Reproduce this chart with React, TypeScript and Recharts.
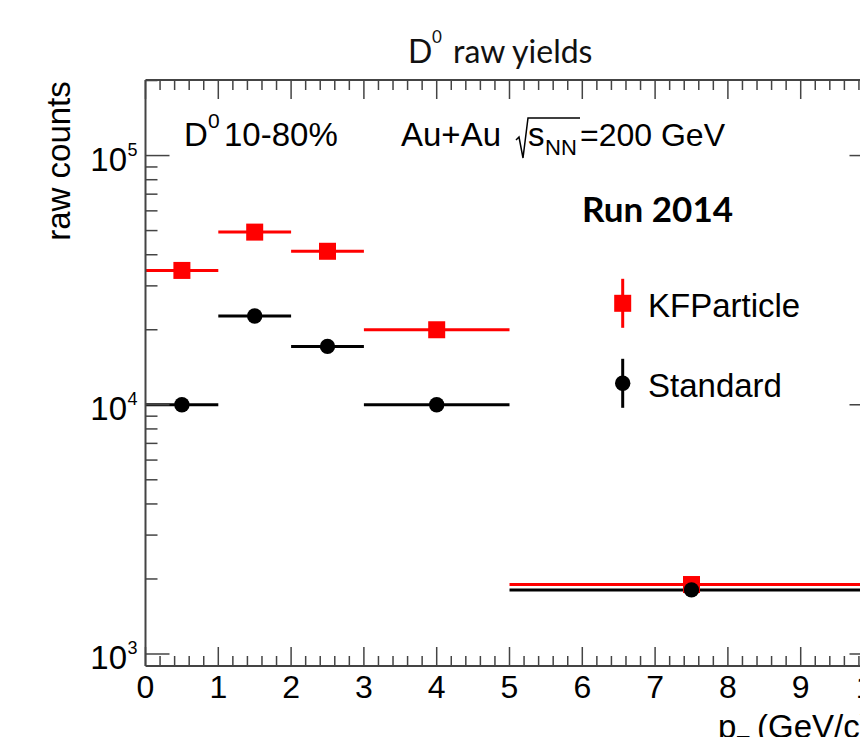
import { ComposedChart, Scatter, ErrorBar, XAxis, YAxis, Legend } from 'recharts';

// pT bins (GeV/c): centres and half widths
const binCenters = [0.5, 1.5, 2.5, 4, 7.5];
const binHalfWidths = [0.5, 0.5, 0.5, 1, 2.5];

// raw D0 counts per bin
const kfParticleYields = [34600, 49300, 41300, 20000, 1900];
const standardYields = [10000, 22700, 17150, 10000, 1808];

const xMajorTicks = [0, 1, 2, 3, 4, 5, 6, 7, 8, 9, 10];
const yDecades = [1000, 10000, 100000];
const yDecadeExponents = ['3', '4', '5'];

const X_DOMAIN: [number, number] = [0, 10];
const Y_DOMAIN: [number, number] = [895, 201000];

// minor ticks every 0.2 on x, 2..9 x 10^n on y (only inside the frame)
const xTicks = Array.from({ length: 51 }, (_, i) => i / 5);
const yTicks = yDecades
  .flatMap((d) => [1, 2, 3, 4, 5, 6, 7, 8, 9].map((m) => m * d))
  .filter((v) => v >= Y_DOMAIN[0] && v < Y_DOMAIN[1]);

const FRAME = '#444';
const ROOT_FONT = '"Liberation Sans", Arial, Helvetica, sans-serif';
const PPT_FONT = 'Lato, "Open Sans", sans-serif';

const kfData = binCenters.map((x, i) => ({ x, y: kfParticleYields[i], xErr: binHalfWidths[i] }));
const stdData = binCenters.map((x, i) => ({ x, y: standardYields[i], xErr: binHalfWidths[i] }));

const series = [
  { name: 'KFParticle', color: '#ff0000', marker: 'square' },
  { name: 'Standard', color: '#000000', marker: 'circle' },
];

const isMajorX = (v: number) => xMajorTicks.some((t) => Math.abs(v - t) < 1e-6);
const decadeIndex = (v: number) => yDecades.findIndex((d) => Math.abs(v - d) < 1e-6);

function BottomTick(props: any) {
  const { x, y, payload } = props;
  const major = isMajorX(payload.value);
  return (
    <g>
      <line x1={x} x2={x} y1={y} y2={y - (major ? 19 : 10)} stroke={FRAME} strokeWidth={1.5} />
      {major && (
        <text x={x} y={y + 32} textAnchor="middle" fontSize={32} fontFamily={ROOT_FONT} fill="#000">
          {Math.round(payload.value)}
        </text>
      )}
    </g>
  );
}

function TopTick(props: any) {
  const { x, y, payload } = props;
  const major = isMajorX(payload.value);
  return <line x1={x} x2={x} y1={y} y2={y + (major ? 19 : 10)} stroke={FRAME} strokeWidth={1.5} />;
}

function LeftTick(props: any) {
  const { x, y, payload } = props;
  const di = decadeIndex(payload.value);
  const major = di >= 0;
  return (
    <g>
      <line x1={x} x2={x + (major ? 24 : 12)} y1={y} y2={y} stroke={FRAME} strokeWidth={1.5} />
      {major && (
        <g fontFamily={ROOT_FONT} fill="#000">
          <text x={x - 18.5} y={y + 15} textAnchor="end" fontSize={33}>
            10
          </text>
          <text x={x - 18} y={y} textAnchor="start" fontSize={18}>
            {yDecadeExponents[di]}
          </text>
        </g>
      )}
    </g>
  );
}

function RightTick(props: any) {
  const { x, y, payload } = props;
  const major = decadeIndex(payload.value) >= 0;
  return <line x1={x} x2={x - (major ? 24 : 12)} y1={y} y2={y} stroke={FRAME} strokeWidth={1.5} />;
}

const squareShape = (p: any) => <rect x={p.cx - 8.5} y={p.cy - 8.5} width={17} height={17} fill="#ff0000" />;
const circleShape = (p: any) => <circle cx={p.cx} cy={p.cy} r={7.7} fill="#000000" />;

function LegendBox() {
  return (
    <svg width={250} height={150} style={{ display: 'block' }}>
      {series.map((s, i) => {
        const cy = 33.3 + i * 80;
        return (
          <g key={s.name}>
            <line x1={22.7} x2={22.7} y1={cy - 24.5} y2={cy + 24.5} stroke={s.color} strokeWidth={3} />
            {s.marker === 'square' ? (
              <rect x={22.7 - 8.5} y={cy - 8.5} width={17} height={17} fill={s.color} />
            ) : (
              <circle cx={22.7} cy={cy} r={7.7} fill={s.color} />
            )}
            <text x={48} y={cy + 13.4} fontSize={33} fontFamily={ROOT_FONT} fill="#000">
              {s.name}
            </text>
          </g>
        );
      })}
    </svg>
  );
}

export default function App() {
  return (
    <div
      style={{
        position: 'fixed',
        left: 0,
        top: 0,
        width: 860,
        height: 737,
        overflow: 'hidden',
        background: '#fff',
      }}
    >
      <ComposedChart width={900} height={760} margin={{ top: 0, right: 0, bottom: 0, left: 0 }}>
        <XAxis
          xAxisId="bottom"
          type="number"
          dataKey="x"
          domain={X_DOMAIN}
          allowDataOverflow
          ticks={xTicks}
          interval={0}
          height={94}
          tickSize={0}
          tickMargin={0}
          tick={(p: any) => <BottomTick {...p} />}
          axisLine={{ stroke: FRAME, strokeWidth: 2 }}
        />
        <XAxis
          xAxisId="top"
          orientation="top"
          type="number"
          dataKey="x"
          domain={X_DOMAIN}
          allowDataOverflow
          ticks={xTicks}
          interval={0}
          height={80}
          tickSize={0}
          tickMargin={0}
          tick={(p: any) => <TopTick {...p} />}
          axisLine={{ stroke: FRAME, strokeWidth: 2 }}
        />
        <YAxis
          yAxisId="left"
          type="number"
          scale="log"
          domain={Y_DOMAIN}
          allowDataOverflow
          ticks={yTicks}
          interval={0}
          width={145.5}
          tickSize={0}
          tickMargin={0}
          tick={(p: any) => <LeftTick {...p} />}
          axisLine={{ stroke: FRAME, strokeWidth: 2 }}
        />
        <YAxis
          yAxisId="right"
          orientation="right"
          type="number"
          scale="log"
          domain={Y_DOMAIN}
          allowDataOverflow
          ticks={yTicks}
          interval={0}
          width={26.5}
          tickSize={0}
          tickMargin={0}
          tick={(p: any) => <RightTick {...p} />}
          axisLine={{ stroke: FRAME, strokeWidth: 2 }}
        />
        <Scatter
          name="KFParticle"
          data={kfData}
          xAxisId="bottom"
          yAxisId="left"
          dataKey="y"
          fill="#ff0000"
          shape={squareShape}
          isAnimationActive={false}
        >
          <ErrorBar dataKey="xErr" direction="x" width={0} stroke="#ff0000" strokeWidth={3} isAnimationActive={false} />
        </Scatter>
        <Scatter
          name="Standard"
          data={stdData}
          xAxisId="bottom"
          yAxisId="left"
          dataKey="y"
          fill="#000000"
          shape={circleShape}
          isAnimationActive={false}
        >
          <ErrorBar dataKey="xErr" direction="x" width={0} stroke="#000000" strokeWidth={3} isAnimationActive={false} />
        </Scatter>
        <Legend
          layout="vertical"
          align="center"
          verticalAlign="middle"
          wrapperStyle={{ left: 600, top: 270, width: 250, height: 150 }}
          content={() => <LegendBox />}
        />
      </ComposedChart>

      <svg
        width={860}
        height={737}
        style={{ position: 'absolute', left: 0, top: 0, pointerEvents: 'none' }}
      >
        {/* title and run label (slide overlay) */}
        <g fontFamily={PPT_FONT} fill="#111">
          <text x={408} y={63} fontSize={32}>D</text>
          <text x={432} y={43} fontSize={17}>0</text>
          <text x={453} y={63} fontSize={32}>raw yields</text>
          <text x={582} y={222} fontSize={35} fontWeight={700} fill="#000">Run 2014</text>
        </g>

        <g fontFamily={ROOT_FONT} fill="#000">
          <text x={184} y={146} fontSize={33}>D</text>
          <text x={208} y={128} fontSize={21}>0</text>
          <text x={224} y={146} fontSize={33}>10-80%</text>

          <text x={401} y={146} fontSize={33}>Au+Au</text>
          <path d="M516,140 L519,137 L523,158 L528,118 L580,118" fill="none" stroke="#000" strokeWidth={1.5} />
          <text x={528} y={146} fontSize={33}>s</text>
          <text x={545} y={155} fontSize={22}>NN</text>
          <text x={580} y={146} fontSize={32}>=200 GeV</text>

          <text x={70} y={161} fontSize={33} textAnchor="middle" transform="rotate(-90 70 161)">
            raw counts
          </text>

          <text x={718} y={738} fontSize={33}>p</text>
          <text x={736.5} y={750.5} fontSize={22}>T</text>
          <text x={757} y={738} fontSize={33}>(GeV/c)</text>
        </g>
      </svg>
    </div>
  );
}
